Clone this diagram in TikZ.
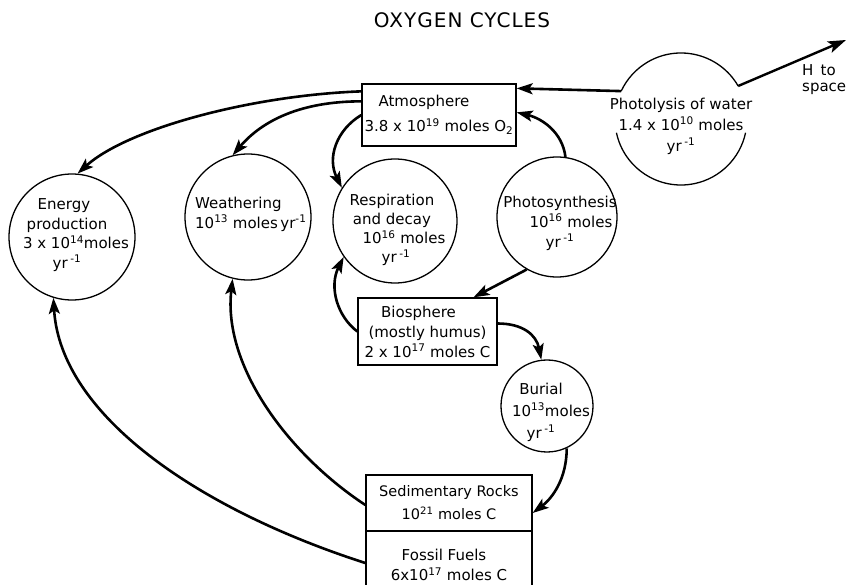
\documentclass[tikz,border=0pt]{standalone}
\usepackage{fontspec}
\setmainfont{DejaVu Sans}
\usetikzlibrary{arrows.meta,calc}
\newcommand\tenp[1]{10\textsuperscript{#1}}
\newcommand\peryr{yr\,\textsuperscript{-1}}
\begin{document}
\begin{tikzpicture}[x=1pt,y=-1pt,
  txt/.style={font=\fontsize{15}{20}\selectfont, align=center, inner sep=0pt},
  proc/.style={circle, draw, line width=1.3pt, inner sep=0pt},
  res/.style={rectangle, draw, line width=1.3pt, inner sep=0pt, font=\fontsize{15}{20}\selectfont, align=center},
  flow/.style={line width=2.6pt, -{Stealth[length=16pt,width=11pt,inset=3.5pt]}},
]
\useasboundingbox (0,0) rectangle (847,585);
\clip (0,0) rectangle (847,585);

\node[txt, font=\fontsize{20}{24}\selectfont\addfontfeature{LetterSpace=5}] (title) at (462,20) {OXYGEN CYCLES};

% reservoirs
\node[res, minimum width=154pt, minimum height=62pt, font=\fontsize{15}{25}\selectfont] (atm) at (439,115)
  {Atmosphere\hspace*{30pt}\\3.8 x \tenp{19} moles O\textsubscript{2}};
\node[res, minimum width=139pt, minimum height=67pt] (bio) at (427.5,331.5)
  {Biosphere\hspace*{18pt}\\(mostly humus)\\2 x \tenp{17} moles C};
\node[res, minimum width=166pt, minimum height=56pt, font=\fontsize{14.5}{23}\selectfont] (sed) at (449,503)
  {Sedimentary Rocks\\\tenp{21} moles C};
\node[res, minimum width=166pt, minimum height=68pt] (fos) at (449,565)
  {Fossil Fuels\hspace*{10pt}\\6x\tenp{17} moles C};

% processes
\node[proc, minimum size=126pt] (en) at (72,237) {};
\node[txt, font=\fontsize{15}{19.5}\selectfont] (enT) at (67,235)
  {Energy\hspace*{6pt}\\production\\\hspace*{18pt}3 x \tenp{14}moles\\\peryr};
\node[proc, minimum size=126pt] (we) at (248,217) {};
\node[txt, align=left, anchor=west] (weT) at (195,214)
  {Weathering\\\tenp{13} moles\,yr\textsuperscript{-1}};
\node[proc, minimum size=124pt] (re) at (395,221) {};
\node[txt, font=\fontsize{15}{19}\selectfont] (reT) at (392,230)
  {Respiration\\and decay\\\hspace*{24pt}\tenp{16} moles\\\hspace*{8pt}\peryr};
\node[proc, minimum size=120pt] (ps) at (557,217) {};
\node[txt] (psT) at (560,223)
  {Photosynthesis\\\hspace*{22pt}\tenp{16} moles\\\peryr};
\node[proc, minimum size=92pt] (bur) at (547,406) {};
\node[txt, font=\fontsize{15}{22}\selectfont] (burT) at (541,412)
  {Burial\\\hspace*{20pt}\tenp{13}moles\\\peryr};
\node[circle, draw=none, minimum size=132pt, inner sep=0pt, outer sep=0pt] (photo) at (681,119) {};
\node[txt, font=\fontsize{15}{21}\selectfont] (photoT) at (681,126)
  {Photolysis of water\\1.4 x \tenp{10} moles\\\peryr};
\draw[line width=1.3pt] (photo.30) arc[start angle=30, end angle=155, radius=66pt];
\draw[line width=1.3pt] (photo.192) arc[start angle=192, end angle=348, radius=66pt];

\node[txt, font=\fontsize{15}{16}\selectfont, align=left, anchor=west] (hT) at (802,80) {H\, to\\space};
\coordinate (hsp) at (846,40);

% flows
\draw[flow] (photo.155) -- ([yshift=-5pt]atm.north east);
\draw[line width=2.4pt, -{Stealth[length=18pt,width=12pt,inset=4pt]}] (photo.30) -- (hsp);
\draw[flow] ([yshift=-8pt]atm.north west) .. controls +(-110,4) and +(50,-45) .. (en.85);
\draw[flow] ([yshift=-18pt]atm.north west) .. controls +(-60,0) and +(30,-35) .. (we.104);
\draw[flow] (atm.west) .. controls +(-25,15) and +(-15,-30) .. (re.148);
\draw[flow] (ps.82) .. controls +(-3,-25) and +(25,6) .. ([yshift=-29pt]atm.north east);
\draw[flow] (ps.240) -- ([xshift=46pt]bio.north);
\draw[flow] (bio.west) .. controls +(-20,-15) and +(-15,30) .. (re.215);
\draw[flow] ([yshift=8pt]bio.east) .. controls +(25,0) and +(-5,-25) .. (bur.97);
\draw[flow] (bur.295) .. controls +(0,30) and +(20,-15) .. ([yshift=-10pt]sed.east);
\draw[flow] ([yshift=-2pt]sed.west) .. controls +(-76,-50) and +(-10,88) .. (we.256);
\draw[flow] ([yshift=2pt]fos.west) .. controls +(-165,-53) and +(7,118) .. (en.253);
\end{tikzpicture}
\end{document}
